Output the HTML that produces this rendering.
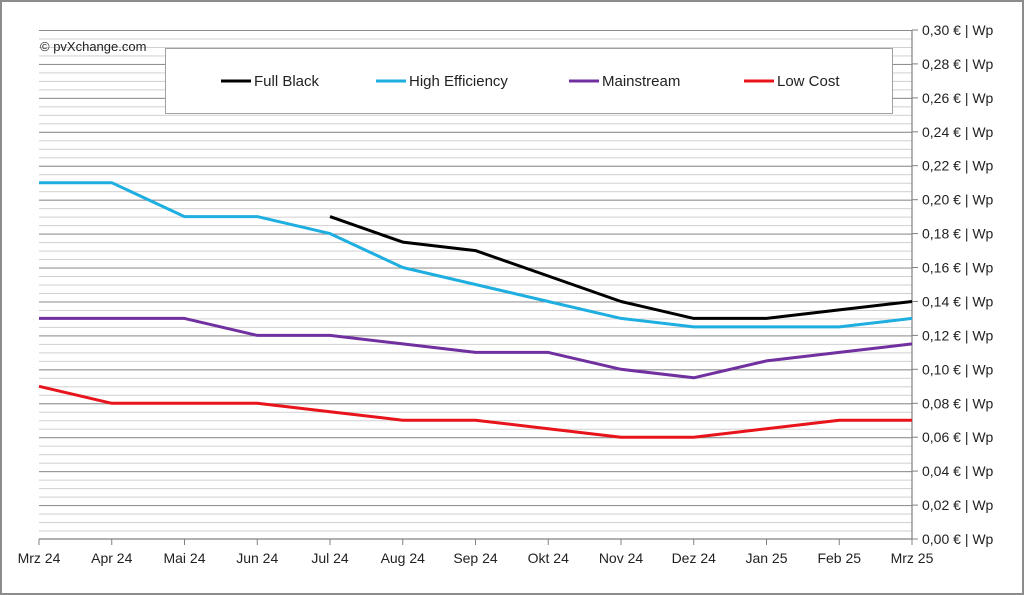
<!DOCTYPE html>
<html><head><meta charset="utf-8"><style>
html,body{margin:0;padding:0;background:#fff;}
svg{display:block;font-family:"Liberation Sans",Calibri,sans-serif;}
</style></head><body>
<svg width="1024" height="595" viewBox="0 0 1024 595" xmlns="http://www.w3.org/2000/svg">
<defs>
<pattern id="minor" patternUnits="userSpaceOnUse" x="0" y="30" width="10" height="8.4835">
<line x1="0" y1="0.5" x2="10" y2="0.5" stroke="#d0d0d0" stroke-width="1"/>
</pattern>
<pattern id="major" patternUnits="userSpaceOnUse" x="0" y="30" width="10" height="33.934">
<line x1="0" y1="0.5" x2="10" y2="0.5" stroke="#8c8c8c" stroke-width="1"/>
</pattern>
</defs>
<rect x="0" y="0" width="1024" height="595" fill="#fff"/>
<rect x="1" y="1" width="1022" height="593" fill="none" stroke="#8c8c8c" stroke-width="2"/>
<rect x="39" y="30" width="873" height="509" fill="url(#minor)"/>
<rect x="39" y="30" width="873" height="509" fill="url(#major)"/>
<!-- axes -->
<line x1="39" y1="539" x2="912" y2="539" stroke="#808080" stroke-width="1.2"/>
<line x1="912" y1="30" x2="912" y2="539" stroke="#808080" stroke-width="1.2"/>
<g stroke="#808080" stroke-width="1">
<line x1="39" y1="539" x2="39" y2="545"/><line x1="111.75" y1="539" x2="111.75" y2="545"/><line x1="184.5" y1="539" x2="184.5" y2="545"/><line x1="257.25" y1="539" x2="257.25" y2="545"/><line x1="330" y1="539" x2="330" y2="545"/><line x1="402.75" y1="539" x2="402.75" y2="545"/><line x1="475.5" y1="539" x2="475.5" y2="545"/><line x1="548.25" y1="539" x2="548.25" y2="545"/><line x1="621" y1="539" x2="621" y2="545"/><line x1="693.75" y1="539" x2="693.75" y2="545"/><line x1="766.5" y1="539" x2="766.5" y2="545"/><line x1="839.25" y1="539" x2="839.25" y2="545"/><line x1="912" y1="539" x2="912" y2="545"/>
<line x1="912" y1="30" x2="918" y2="30"/><line x1="912" y1="63.9" x2="918" y2="63.9"/><line x1="912" y1="97.9" x2="918" y2="97.9"/><line x1="912" y1="131.8" x2="918" y2="131.8"/><line x1="912" y1="165.7" x2="918" y2="165.7"/><line x1="912" y1="199.7" x2="918" y2="199.7"/><line x1="912" y1="233.6" x2="918" y2="233.6"/><line x1="912" y1="267.5" x2="918" y2="267.5"/><line x1="912" y1="301.5" x2="918" y2="301.5"/><line x1="912" y1="335.4" x2="918" y2="335.4"/><line x1="912" y1="369.3" x2="918" y2="369.3"/><line x1="912" y1="403.3" x2="918" y2="403.3"/><line x1="912" y1="437.2" x2="918" y2="437.2"/><line x1="912" y1="471.1" x2="918" y2="471.1"/><line x1="912" y1="505.1" x2="918" y2="505.1"/><line x1="912" y1="539" x2="918" y2="539"/>
</g>
<g font-size="14" fill="#222">
<text x="922" y="35">0,30 € | Wp</text><text x="922" y="68.9">0,28 € | Wp</text><text x="922" y="102.9">0,26 € | Wp</text><text x="922" y="136.8">0,24 € | Wp</text><text x="922" y="170.7">0,22 € | Wp</text><text x="922" y="204.7">0,20 € | Wp</text><text x="922" y="238.6">0,18 € | Wp</text><text x="922" y="272.5">0,16 € | Wp</text><text x="922" y="306.5">0,14 € | Wp</text><text x="922" y="340.4">0,12 € | Wp</text><text x="922" y="374.3">0,10 € | Wp</text><text x="922" y="408.3">0,08 € | Wp</text><text x="922" y="442.2">0,06 € | Wp</text><text x="922" y="476.1">0,04 € | Wp</text><text x="922" y="510.1">0,02 € | Wp</text><text x="922" y="544">0,00 € | Wp</text>
</g>
<g font-size="14" fill="#222" text-anchor="middle">
<text x="39" y="563">Mrz 24</text><text x="111.75" y="563">Apr 24</text><text x="184.5" y="563">Mai 24</text><text x="257.25" y="563">Jun 24</text><text x="330" y="563">Jul 24</text><text x="402.75" y="563">Aug 24</text><text x="475.5" y="563">Sep 24</text><text x="548.25" y="563">Okt 24</text><text x="621" y="563">Nov 24</text><text x="693.75" y="563">Dez 24</text><text x="766.5" y="563">Jan 25</text><text x="839.25" y="563">Feb 25</text><text x="912" y="563">Mrz 25</text>
</g>
<text x="40" y="51" font-size="13" fill="#222">© pvXchange.com</text>
<!-- legend -->
<rect x="165.5" y="48.5" width="727" height="65" fill="#fff" stroke="#a0a0a0"/>
<g font-size="15" fill="#222">
<line x1="221" y1="81" x2="251" y2="81" stroke="#000" stroke-width="3"/><text x="254" y="86">Full Black</text>
<line x1="376" y1="81" x2="406" y2="81" stroke="#1eaee0" stroke-width="3"/><text x="409" y="86">High Efficiency</text>
<line x1="569" y1="81" x2="599" y2="81" stroke="#7030a0" stroke-width="3"/><text x="602" y="86">Mainstream</text>
<line x1="744" y1="81" x2="774" y2="81" stroke="#e8141c" stroke-width="3"/><text x="777" y="86">Low Cost</text>
</g>
<!-- series -->
<g fill="none" stroke-width="3" stroke-linejoin="round">
<polyline stroke="#e8141c" points="39,386.3 111.75,403.3 184.5,403.3 257.25,403.3 330,411.7 402.75,420.2 475.5,420.2 548.25,428.7 621,437.2 693.75,437.2 766.5,428.7 839.25,420.2 912,420.2"/>
<polyline stroke="#7030a0" points="39,318.4 111.75,318.4 184.5,318.4 257.25,335.4 330,335.4 402.75,343.9 475.5,352.4 548.25,352.4 621,369.3 693.75,377.8 766.5,360.9 839.25,352.4 912,343.9"/>
<polyline stroke="#1eaee0" points="39,182.7 111.75,182.7 184.5,216.6 257.25,216.6 330,233.6 402.75,267.5 475.5,284.5 548.25,301.5 621,318.4 693.75,326.9 766.5,326.9 839.25,326.9 912,318.4"/>
<polyline stroke="#000" points="330,216.6 402.75,242.1 475.5,250.6 548.25,276 621,301.5 693.75,318.4 766.5,318.4 839.25,309.9 912,301.5"/>
</g>
</svg>
</body></html>
